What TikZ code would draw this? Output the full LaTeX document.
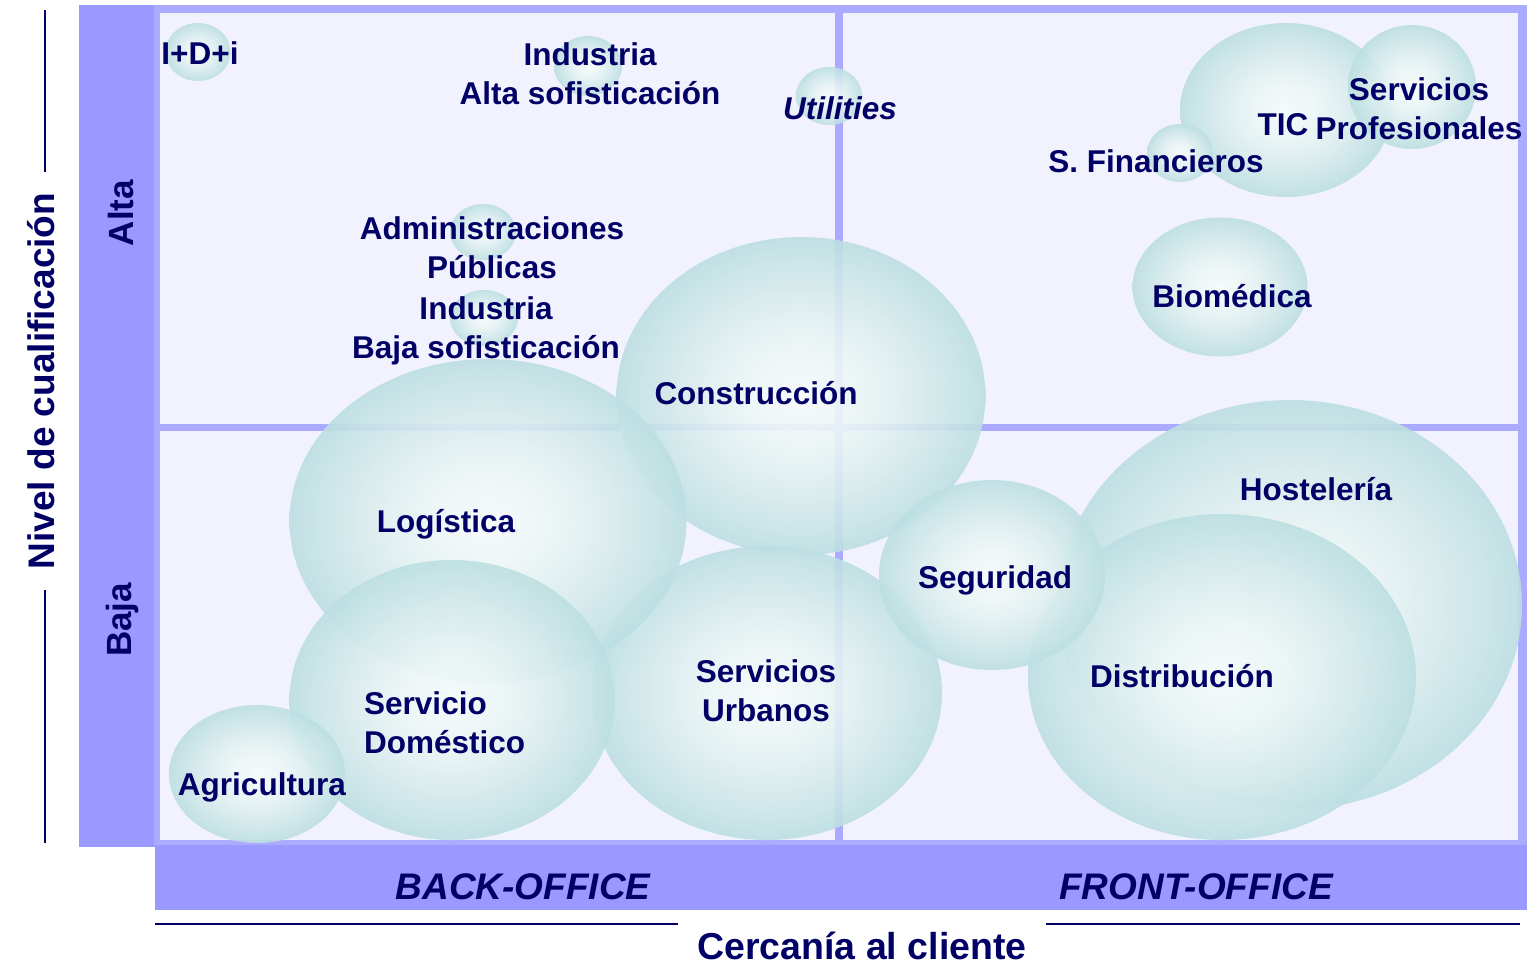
\documentclass[tikz,border=0pt]{standalone}
\usepackage{fontspec}
\setmainfont{Liberation Sans}
\usetikzlibrary{shapes.geometric}
\definecolor{navy}{RGB}{0,0,102}
\definecolor{barc}{RGB}{153,153,255}
\definecolor{framec}{RGB}{170,170,255}
\definecolor{innerc}{RGB}{242,242,254}
\definecolor{bubin}{RGB}{247,251,251}
\definecolor{bubin2}{RGB}{236,246,246}
\definecolor{bubmid}{RGB}{216,236,237}
\definecolor{bubout}{RGB}{188,223,225}
\pgfdeclareradialshading{bubshade}{\pgfpoint{0bp}{0bp}}{color(0bp)=(bubin); color(8bp)=(bubin2); color(16bp)=(bubmid); color(25bp)=(bubout); color(50bp)=(bubout)}
\tikzset{
  bubble/.style={ellipse, draw=none, shade, shading=bubshade, fill opacity=0.9, inner sep=0pt, outer sep=0pt},
  lab/.style={text=navy, font=\bfseries\fontsize{31.5}{38.5}\selectfont, inner sep=0pt, anchor=base},
  mlab/.style={lab, anchor=north, align=center},
  axlab/.style={text=navy, inner sep=0pt, rotate=90, anchor=center, text depth=0pt},
  offlab/.style={text=navy, font=\bfseries\itshape\fontsize{37}{44}\selectfont, inner sep=0pt, anchor=base},
  axline/.style={draw=navy, line width=2.2pt}
}
\begin{document}
\begin{tikzpicture}[x=1pt, y=-1pt]
\useasboundingbox (0,0) rectangle (1530,964);
\fill[white] (0,0) rectangle (1530,964);
% left axis line
\coordinate (vT) at (45,10);
\coordinate (vB) at (45,843);
\draw[axline] (vT) -- (vB);
\node[axlab, fill=white, minimum width=418pt, minimum height=64pt, text height=26.5pt,
  font=\bfseries\fontsize{37}{44}\selectfont] (nivel) at (41,381) {Nivel de cualificación};
% frame
\fill[barc] (79,5) rectangle (155,847);
\fill[framec] (154,5) rectangle (1527,845);
\fill[innerc] (160,13) rectangle (835,424);
\fill[innerc] (843,13) rectangle (1518,424);
\fill[innerc] (160,431) rectangle (835,840);
\fill[innerc] (843,431) rectangle (1518,840);
\fill[barc] (155,845) rectangle (1527,910);
\node[axlab, text height=25pt, font=\bfseries\fontsize{35}{42}\selectfont] (alta) at (121,213) {Alta};
\node[axlab, text height=25pt, font=\bfseries\fontsize{35}{42}\selectfont] (baja) at (119,620) {Baja};
% bubbles
\node[bubble, minimum width=65pt, minimum height=58pt] (bIDi) at (198,52) {};
\node[bubble, minimum width=68pt, minimum height=60pt] (bIndA) at (588,66) {};
\node[bubble, minimum width=66pt, minimum height=58pt] (bUtil) at (829,96) {};
\node[bubble, minimum width=66pt, minimum height=56pt] (bAdm) at (483,232) {};
\node[bubble, minimum width=68pt, minimum height=56pt] (bIndB) at (484,318) {};
\node[bubble, minimum width=212pt, minimum height=174pt] (bTIC) at (1286,110) {};
\node[bubble, minimum width=128pt, minimum height=124pt] (bPro) at (1412,87) {};
\node[bubble, minimum width=66pt, minimum height=58pt] (bFin) at (1180,153) {};
\node[bubble, minimum width=175pt, minimum height=139pt] (bBio) at (1220,287) {};
\node[bubble, minimum width=369pt, minimum height=318pt] (bCons) at (801,396) {};
\node[bubble, minimum width=350pt, minimum height=294pt] (bUrb) at (767,693) {};
\node[bubble, minimum width=397pt, minimum height=324pt] (bLog) at (488,521) {};
\node[bubble, minimum width=325pt, minimum height=280pt] (bDom) at (452,700) {};
\node[bubble, minimum width=176pt, minimum height=138pt] (bAgr) at (257,774) {};
\node[bubble, minimum width=464pt, minimum height=410pt] (bHos) at (1290,605) {};
\node[bubble, minimum width=388pt, minimum height=326pt] (bDis) at (1222,677) {};
\node[bubble, minimum width=226pt, minimum height=190pt] (bSeg) at (992,575) {};
% labels
\node[lab] (tIDi) at (200,64.3) {I+D+i};
\node[mlab] (tIndA) at (590,42.7) {Industria\\Alta sofisticación};
\node[lab, font=\bfseries\itshape\fontsize{31.5}{38.5}\selectfont] (tUtil) at (840,119.3) {Utilities};
\node[mlab] (tAdm) at (492,216.7) {Administraciones\\Públicas};
\node[mlab] (tIndB) at (486,296.7) {Industria\\Baja sofisticación};
\node[lab] (tCons) at (756,404.3) {Construcción};
\node[lab] (tLog) at (446,532.3) {Logística};
\node[mlab, anchor=north west, align=left] (tDom) at (364,691.7) {Servicio\\Doméstico};
\node[lab] (tAgr) at (262,795.3) {Agricultura};
\node[mlab] (tUrb) at (766,659.7) {Servicios\\Urbanos};
\node[lab] (tSeg) at (995,588.3) {Seguridad};
\node[lab] (tHos) at (1316,500.3) {Hostelería};
\node[lab] (tDis) at (1182,687.3) {Distribución};
\node[lab] (tBio) at (1232,307.3) {Biomédica};
\node[lab] (tTIC) at (1283,135.3) {TIC};
\node[mlab] (tPro) at (1419,77.7) {Servicios\\Profesionales};
\node[lab] (tFin) at (1156,172.3) {S. Financieros};
% bottom
\node[offlab] (back) at (523,899) {BACK-OFFICE};
\node[offlab] (front) at (1196,899) {FRONT-OFFICE};
\coordinate (hL1) at (155,924);
\coordinate (hL2) at (678,924);
\coordinate (hR1) at (1046,924);
\coordinate (hR2) at (1520,924);
\draw[axline] (hL1) -- (hL2);
\draw[axline] (hR1) -- (hR2);
\node[text=navy, font=\bfseries\fontsize{37.5}{44}\selectfont, inner sep=0pt, text depth=0pt, anchor=base] (cerc) at (862,959) {Cercanía al cliente};
\end{tikzpicture}
\end{document}
